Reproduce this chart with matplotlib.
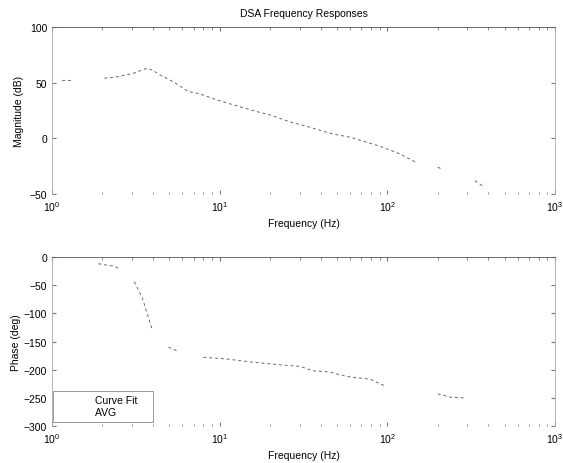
import numpy as np
import matplotlib
matplotlib.use('Agg')
import matplotlib.pyplot as plt
from matplotlib.ticker import LogLocator, NullFormatter

plt.rcParams['font.family'] = ['Liberation Sans', 'DejaVu Sans']
plt.rcParams['font.size'] = 7.5

# magnitude response, NaN = gap in the trace
mag_freq = [1.15, 1.3, np.nan, 2.05, 2.4, 2.75, 3.0, 3.7, 4.0, 4.4, 5.4, 6.5,
            7.6, 9.4, 11.5, 14.2, 16.7, 20, 26, 34.5, 47, 60, 90, 119, 150,
            np.nan, 200, 215, np.nan, 333, 372]
mag_db = [52, 52, np.nan, 54, 55, 57, 58, 63, 61, 57, 50, 42,
          40, 35, 31, 27, 24, 21, 15, 10, 4, 1, -7, -14, -22,
          np.nan, -26, -28, np.nan, -38, -43]

# phase response
ph_freq = [1.89, 2.3, 2.55, np.nan, 3.1, 3.45, 3.7, 3.95, np.nan, 4.95, 5.6,
           np.nan, 8, 11, 15, 24, 30, 36, 45, 57, 79, 97, np.nan,
           200, 240, 285, np.nan, 395]
ph_deg = [-12, -16, -21, np.nan, -44, -72, -101, -128, np.nan, -160, -167,
          np.nan, -178, -181, -186, -192, -194, -202, -204, -212, -217, -229, np.nan,
          -243, -249, -250, np.nan, -257]

line_kw = dict(color='#666666', lw=0.7, ls=(0, (3, 3)))

fig = plt.figure(figsize=(5.63, 4.64), dpi=100)
ax1 = fig.add_axes([0.0924, 0.5797, 0.8934, 0.36])
ax2 = fig.add_axes([0.0924, 0.0797, 0.8934, 0.3643])

def style(ax):
    ax.set_xscale('log')
    ax.set_xlim(1, 1000)
    ax.xaxis.set_major_locator(LogLocator(base=10, numticks=10))
    ax.xaxis.set_minor_locator(LogLocator(base=10, subs=np.arange(2, 10), numticks=10))
    ax.xaxis.set_minor_formatter(NullFormatter())
    ax.tick_params(which='both', direction='in', top=True, right=True,
                   colors='#777777', labelcolor='black', length=3)
    ax.tick_params(which='minor', length=1.8)
    ax.spines['bottom'].set_visible(False)
    ax.spines['top'].set_color('#555555')
    for s in ['left', 'right']:
        ax.spines[s].set_color('#aaaaaa')
    for s in ax.spines.values():
        s.set_linewidth(0.6)
    ax.set_xlabel('Frequency (Hz)', labelpad=4)

ax1.plot(mag_freq, mag_db, **line_kw)
style(ax1)
ax1.set_ylim(-50, 100)
ax1.set_yticks([-50, 0, 50, 100])
ax1.set_ylabel('Magnitude (dB)')
ax1.set_title('DSA Frequency Responses', fontsize=7.5, pad=8)

l1, = ax2.plot(ph_freq, ph_deg, label='Curve Fit', **line_kw)
l2, = ax2.plot([], [], label='AVG', color='#666666', lw=0.7, ls=':')
style(ax2)
ax2.set_ylim(-300, 0)
ax2.set_yticks([-300, -250, -200, -150, -100, -50, 0])
ax2.set_ylabel('Phase (deg)', labelpad=2)

leg = ax2.legend(loc='lower left', bbox_to_anchor=(0.0, 0.02), fancybox=False,
                 edgecolor='#888888', framealpha=1, borderaxespad=0.1,
                 handlelength=2.8, labelspacing=0.25, borderpad=0.4)
leg.get_frame().set_linewidth(0.6)
leg._legend_box.align = 'left'
for h in leg.get_lines():
    h.set_alpha(0)
for t in leg.get_texts():
    t.set_text(t.get_text() + '    ')

fig.savefig('out.png', dpi=100)
